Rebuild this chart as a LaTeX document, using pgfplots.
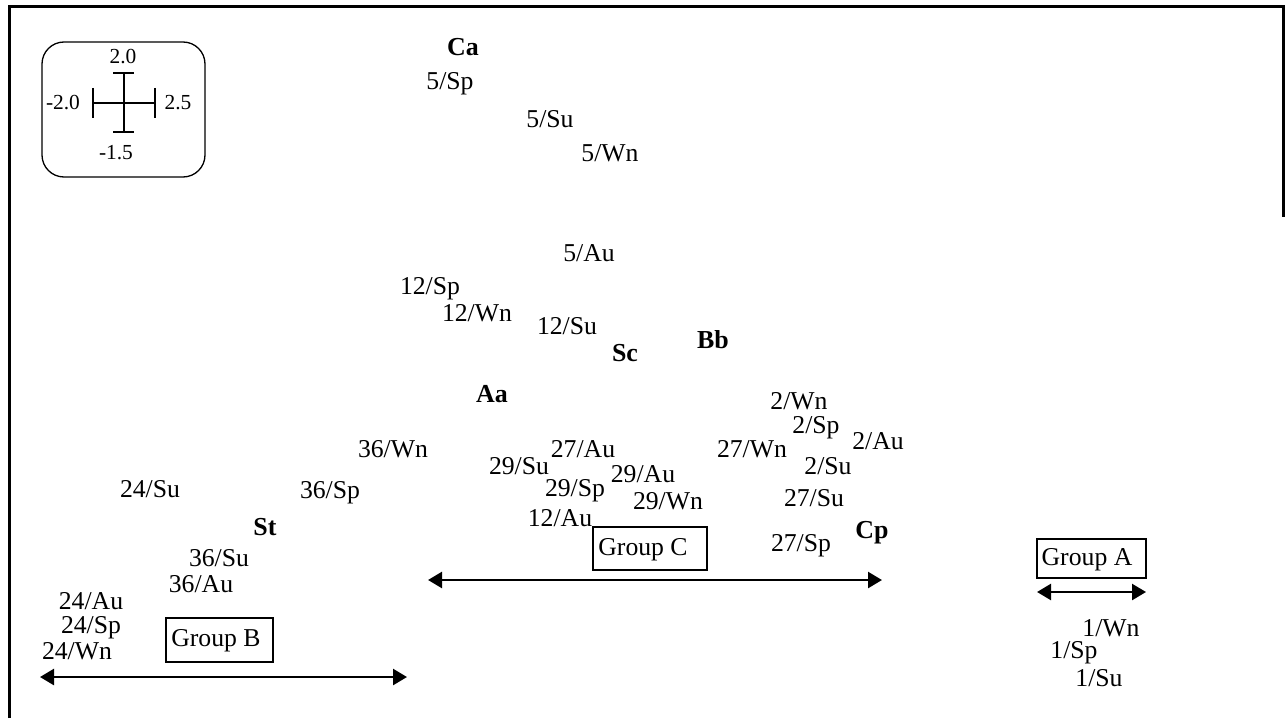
\documentclass[border=0pt]{standalone}
\usepackage{fontspec}
\setmainfont{Liberation Serif}
\usepackage{pgfplots}
\usepackage{pgfplotstable}
\pgfplotsset{compat=1.18}
\usetikzlibrary{arrows.meta}

\pgfplotstableread{
x y label
450 84 5/Sp
550 119 5/Su
610 153 5/Wn
589 253 5/Au
430 289 12/Sp
477 313 12/Wn
567 326 12/Su
799 401 2/Wn
816 428 2/Sp
878 441 2/Au
752 449 27/Wn
828 466 2/Su
814 498 27/Su
801 546 27/Sp
393 449 36/Wn
519 466 29/Su
583 449 27/Au
643 474 29/Au
575 491 29/Sp
668 501 29/Wn
560 518 12/Au
150 489 24/Su
330 493 36/Sp
219 558 36/Su
201 584 36/Au
91 601 24/Au
91 628 24/Sp
77 651 24/Wn
1111 628 1/Wn
1074 653 1/Sp
1099 678 1/Su
}\samples

\pgfplotstableread{
x y label
463 47 Ca
625 353 Sc
713 340 Bb
492 394 Aa
872 533 Cp
265 527 St
}\species

\begin{document}
\begin{tikzpicture}
\begin{axis}[
  width=1286bp, height=718bp, scale only axis,
  xmin=0, xmax=1286, ymin=0, ymax=718, y dir=reverse,
  hide axis, clip=false,
]
\path (rel axis cs:0,0) rectangle (rel axis cs:1,1);
% frame
\draw[line width=3bp] (axis cs:9,718) -- (axis cs:9,7) -- (axis cs:1283,7) -- (axis cs:1283,217);

\addplot[only marks, mark=none, nodes near coords, point meta=explicit symbolic,
  nodes near coords style={anchor=center, inner sep=0pt, font=\fontsize{25.8}{29}\selectfont}]
  table[meta=label] {\samples};
\addplot[only marks, mark=none, nodes near coords, point meta=explicit symbolic,
  nodes near coords style={anchor=center, inner sep=0pt, font=\fontsize{26}{30}\selectfont\bfseries}]
  table[meta=label] {\species};

% group arrows
\addplot[line width=2.5bp, {Triangle[length=14bp,width=16bp]}-{Triangle[length=14bp,width=16bp]}]
  coordinates {(40,677) (407,677)};
\addplot[line width=2.5bp, {Triangle[length=14bp,width=16bp]}-{Triangle[length=14bp,width=16bp]}]
  coordinates {(428,580) (882,580)};
\addplot[line width=2.5bp, {Triangle[length=14bp,width=16bp]}-{Triangle[length=14bp,width=16bp]}]
  coordinates {(1037,592) (1146,592)};

% group boxes
\draw[line width=1.5bp] (axis cs:166,618) rectangle (axis cs:273,662);
\node[font=\fontsize{25.8}{29}\selectfont, inner sep=0pt] at (axis cs:216,641) {Group B};
\draw[line width=1.5bp] (axis cs:593,527) rectangle (axis cs:707,570);
\node[font=\fontsize{25.8}{29}\selectfont, inner sep=0pt] at (axis cs:643,550) {Group C};
\draw[line width=1.5bp] (axis cs:1037,539) rectangle (axis cs:1146,578);
\node[font=\fontsize{25.8}{29}\selectfont, inner sep=0pt] at (axis cs:1087,560) {Group A};

% scale key
\draw[line width=1.3bp, rounded corners=22bp] (axis cs:42,42) rectangle (axis cs:205,177);
\draw[line width=1.5bp] (axis cs:124,73) -- (axis cs:124,132);
\draw[line width=1.5bp] (axis cs:113,73) -- (axis cs:134,73);
\draw[line width=1.5bp] (axis cs:113,132) -- (axis cs:134,132);
\draw[line width=1.5bp] (axis cs:93,103) -- (axis cs:155,103);
\draw[line width=1.5bp] (axis cs:93,88) -- (axis cs:93,118);
\draw[line width=1.5bp] (axis cs:155,88) -- (axis cs:155,118);
\node[font=\fontsize{21.5}{24}\selectfont, inner sep=0pt] at (axis cs:123,57) {2.0};
\node[font=\fontsize{21.5}{24}\selectfont, inner sep=0pt] at (axis cs:63,103) {-2.0};
\node[font=\fontsize{21.5}{24}\selectfont, inner sep=0pt] at (axis cs:178,103) {2.5};
\node[font=\fontsize{21.5}{24}\selectfont, inner sep=0pt] at (axis cs:116,153) {-1.5};
\end{axis}
\end{tikzpicture}
\end{document}
